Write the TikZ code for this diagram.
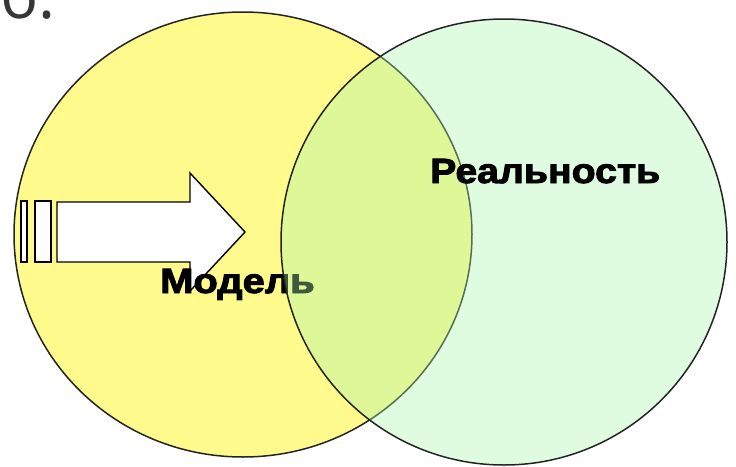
\documentclass[tikz,border=0pt]{standalone}
\usepackage{fontspec}
\setmainfont{Liberation Sans}
\newfontfamily\opensans{Open Sans}
\newfontfamily\heavyfont[FakeBold=2.5]{Liberation Sans Bold}
\usetikzlibrary{shapes.geometric}
\definecolor{yellowfill}{RGB}{255,250,140}
\definecolor{greenfill}{RGB}{170,246,170}
\definecolor{edgecol}{RGB}{35,35,35}
\definecolor{headgray}{RGB}{55,55,55}
\tikzset{
  setshape/.style={draw=edgecol, line width=1.5pt, inner sep=0pt},
  arrowpart/.style={draw=black, fill=white, line width=1.4pt},
  label/.style={font=\heavyfont\fontsize{35}{35}\selectfont, inner sep=0pt, anchor=base west, text=black},
}
\begin{document}
\begin{tikzpicture}[x=1pt,y=-1pt]
\useasboundingbox (0,0) rectangle (736,466);
\node[setshape, ellipse, fill=yellowfill, minimum width=458pt, minimum height=445pt] (model) at (243,234.5) {};
% block arrow
\draw[arrowpart] (57,202) -- (190,202) -- (190,173) -- (245,232) -- (190,291) -- (190,262) -- (57,262) -- cycle;
\draw[arrowpart] (21,201) rectangle (27,262);
\draw[arrowpart] (35,201) rectangle (51,262);
\node[label, xscale=1.14] (modeltext) at (160,293) {Модель};
\node[setshape, circle, fill=greenfill, fill opacity=0.37, minimum size=446pt] (reality) at (504,242) {};
\node[label, xscale=1.12] (realtext) at (430,183) {Реальность};
\node[font=\opensans\fontsize{64}{64}\selectfont, text=headgray, anchor=base west, inner sep=0pt] (b) at (0,18) {б.};
\end{tikzpicture}
\end{document}
